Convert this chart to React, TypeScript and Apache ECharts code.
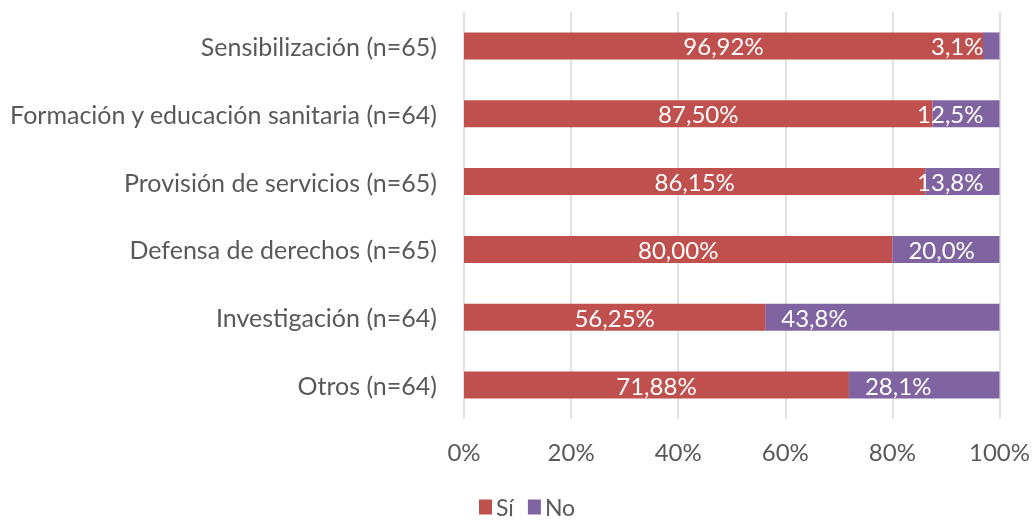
import React, { useEffect, useRef } from "react";
import * as echarts from "echarts";

const categories = [
  "Sensibilización (n=65)",
  "Formación y educación sanitaria (n=64)",
  "Provisión de servicios (n=65)",
  "Defensa de derechos (n=65)",
  "Investigación (n=64)",
  "Otros (n=64)",
];
const siValues = [96.92, 87.5, 86.15, 80.0, 56.25, 71.88];
const noValues = [3.08, 12.5, 13.85, 20.0, 43.75, 28.12];
const xTicks = [0, 20, 40, 60, 80, 100];

const FONT = "Lato";
const GRAY = "#595959";
const FS = 25;

export default function App() {
  const ref = useRef<HTMLDivElement>(null);
  useEffect(() => {
    if (!ref.current) return;
    const chart = echarts.init(ref.current, undefined, { renderer: "svg" });
    const fmt = (v: number, d: number) => v.toFixed(d).replace(".", ",") + "%";
    chart.setOption({
      animation: false,
      textStyle: { fontFamily: FONT },
      grid: { left: 464, right: 32, top: 12, bottom: 102, containLabel: false },
      legend: {
        data: ["Sí", "No"],
        top: 494,
        left: 479,
        padding: 0,
        itemWidth: 13,
        itemHeight: 15,
        itemGap: 14,
        icon: "rect",
        textStyle: {
          color: GRAY,
          fontSize: 23,
          lineHeight: 26,
          fontFamily: FONT,
          padding: [0, 0, 0, -1],
        },
      },
      xAxis: {
        type: "value",
        min: xTicks[0],
        max: xTicks[xTicks.length - 1],
        interval: 20,
        axisLine: { show: false },
        axisTick: { show: false },
        splitLine: { lineStyle: { color: "#d9d9d9", width: 1.5 } },
        axisLabel: {
          formatter: "{value}%",
          color: GRAY,
          fontSize: 24,
          margin: 20,
          fontFamily: FONT,
        },
      },
      yAxis: {
        type: "category",
        data: categories,
        inverse: true,
        axisLine: { show: false },
        axisTick: { show: false },
        axisLabel: { color: GRAY, fontSize: FS, margin: 27, fontFamily: FONT },
      },
      series: [
        {
          name: "Sí",
          type: "bar",
          stack: "total",
          barWidth: 27,
          itemStyle: { color: "#C0504D" },
          label: {
            show: true,
            position: "inside",
            color: "#fff",
            fontSize: 24,
            fontFamily: FONT,
            formatter: (p: any) => fmt(p.value, 2),
          },
          data: siValues,
        },
        {
          name: "No",
          type: "bar",
          stack: "total",
          barWidth: 27,
          itemStyle: { color: "#8064A2" },
          data: noValues.map((v) => ({
            value: v,
            label: {
              position: v < 18 ? "insideRight" : "insideLeft",
              distance: 16,
            },
          })),
          label: {
            show: true,
            color: "#fff",
            fontSize: 24,
            fontFamily: FONT,
            formatter: (p: any) => fmt(p.value, 1),
          },
        },
      ],
    });
    return () => chart.dispose();
  }, []);
  return (
    <div
      ref={ref}
      style={{ position: "fixed", left: 0, top: 0, width: 1033, height: 521 }}
    />
  );
}
